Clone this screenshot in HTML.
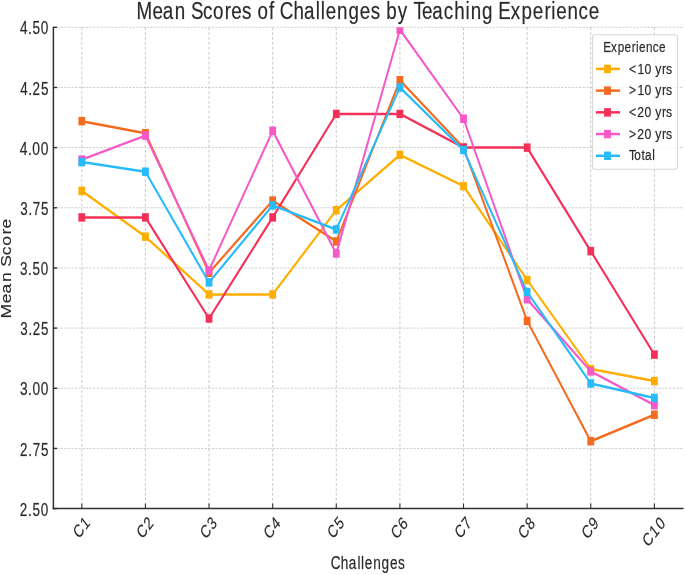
<!DOCTYPE html>
<html><head><meta charset="utf-8"><title>Mean Scores of Challenges by Teaching Experience</title>
<style>html,body{margin:0;padding:0;background:#fff;}svg{display:block;will-change:transform}text{font-family:"Liberation Sans",sans-serif;}</style>
</head><body>
<svg width="685" height="575" viewBox="0 0 685 575">
<rect width="685" height="575" fill="#fff"/>
<line x1="53.4" y1="27.30" x2="683.6" y2="27.30" stroke="#c8c8c8" stroke-width="0.85" stroke-dasharray="2.4 1.2"/>
<line x1="53.4" y1="87.46" x2="683.6" y2="87.46" stroke="#c8c8c8" stroke-width="0.85" stroke-dasharray="2.4 1.2"/>
<line x1="53.4" y1="147.62" x2="683.6" y2="147.62" stroke="#c8c8c8" stroke-width="0.85" stroke-dasharray="2.4 1.2"/>
<line x1="53.4" y1="207.79" x2="683.6" y2="207.79" stroke="#c8c8c8" stroke-width="0.85" stroke-dasharray="2.4 1.2"/>
<line x1="53.4" y1="267.95" x2="683.6" y2="267.95" stroke="#c8c8c8" stroke-width="0.85" stroke-dasharray="2.4 1.2"/>
<line x1="53.4" y1="328.11" x2="683.6" y2="328.11" stroke="#c8c8c8" stroke-width="0.85" stroke-dasharray="2.4 1.2"/>
<line x1="53.4" y1="388.28" x2="683.6" y2="388.28" stroke="#c8c8c8" stroke-width="0.85" stroke-dasharray="2.4 1.2"/>
<line x1="53.4" y1="448.44" x2="683.6" y2="448.44" stroke="#c8c8c8" stroke-width="0.85" stroke-dasharray="2.4 1.2"/>
<line x1="81.80" y1="27.3" x2="81.80" y2="508.6" stroke="#bcbcbc" stroke-width="0.8" stroke-dasharray="2.9 2.0"/>
<line x1="145.42" y1="27.3" x2="145.42" y2="508.6" stroke="#bcbcbc" stroke-width="0.8" stroke-dasharray="2.9 2.0"/>
<line x1="209.04" y1="27.3" x2="209.04" y2="508.6" stroke="#bcbcbc" stroke-width="0.8" stroke-dasharray="2.9 2.0"/>
<line x1="272.66" y1="27.3" x2="272.66" y2="508.6" stroke="#bcbcbc" stroke-width="0.8" stroke-dasharray="2.9 2.0"/>
<line x1="336.28" y1="27.3" x2="336.28" y2="508.6" stroke="#bcbcbc" stroke-width="0.8" stroke-dasharray="2.9 2.0"/>
<line x1="399.90" y1="27.3" x2="399.90" y2="508.6" stroke="#bcbcbc" stroke-width="0.8" stroke-dasharray="2.9 2.0"/>
<line x1="463.52" y1="27.3" x2="463.52" y2="508.6" stroke="#bcbcbc" stroke-width="0.8" stroke-dasharray="2.9 2.0"/>
<line x1="527.14" y1="27.3" x2="527.14" y2="508.6" stroke="#bcbcbc" stroke-width="0.8" stroke-dasharray="2.9 2.0"/>
<line x1="590.76" y1="27.3" x2="590.76" y2="508.6" stroke="#bcbcbc" stroke-width="0.8" stroke-dasharray="2.9 2.0"/>
<line x1="654.38" y1="27.3" x2="654.38" y2="508.6" stroke="#bcbcbc" stroke-width="0.8" stroke-dasharray="2.9 2.0"/>
<defs><clipPath id="ax"><rect x="53.4" y="27.3" width="630.2" height="481.3"/></clipPath></defs><g clip-path="url(#ax)">
<g transform="scale(0.766,1)"><polyline points="106.79,190.94 189.84,236.67 272.90,294.42 355.95,294.42 439.01,210.19 522.06,154.84 605.12,186.13 688.17,279.98 771.23,369.02 854.28,381.06" fill="none" stroke="#FFAE00" stroke-width="2.5" stroke-linejoin="round"/>
<rect x="102.35" y="186.72" width="8.88" height="8.45" fill="#FFAE00"/>
<rect x="185.40" y="232.44" width="8.88" height="8.45" fill="#FFAE00"/>
<rect x="268.46" y="290.20" width="8.88" height="8.45" fill="#FFAE00"/>
<rect x="351.51" y="290.20" width="8.88" height="8.45" fill="#FFAE00"/>
<rect x="434.57" y="205.97" width="8.88" height="8.45" fill="#FFAE00"/>
<rect x="517.62" y="150.62" width="8.88" height="8.45" fill="#FFAE00"/>
<rect x="600.68" y="181.90" width="8.88" height="8.45" fill="#FFAE00"/>
<rect x="683.73" y="275.76" width="8.88" height="8.45" fill="#FFAE00"/>
<rect x="766.79" y="364.80" width="8.88" height="8.45" fill="#FFAE00"/>
<rect x="849.84" y="376.83" width="8.88" height="8.45" fill="#FFAE00"/>
</g>
<g transform="scale(0.766,1)"><polyline points="106.79,121.15 189.84,133.19 272.90,272.76 355.95,200.57 439.01,241.48 522.06,80.24 605.12,147.62 688.17,320.89 771.23,441.22 854.28,414.75" fill="none" stroke="#F46A1E" stroke-width="2.5" stroke-linejoin="round"/>
<rect x="102.35" y="116.93" width="8.88" height="8.45" fill="#F46A1E"/>
<rect x="185.40" y="128.96" width="8.88" height="8.45" fill="#F46A1E"/>
<rect x="268.46" y="268.54" width="8.88" height="8.45" fill="#F46A1E"/>
<rect x="351.51" y="196.34" width="8.88" height="8.45" fill="#F46A1E"/>
<rect x="434.57" y="237.25" width="8.88" height="8.45" fill="#F46A1E"/>
<rect x="517.62" y="76.02" width="8.88" height="8.45" fill="#F46A1E"/>
<rect x="600.68" y="143.40" width="8.88" height="8.45" fill="#F46A1E"/>
<rect x="683.73" y="316.67" width="8.88" height="8.45" fill="#F46A1E"/>
<rect x="766.79" y="436.99" width="8.88" height="8.45" fill="#F46A1E"/>
<rect x="849.84" y="410.52" width="8.88" height="8.45" fill="#F46A1E"/>
</g>
<g transform="scale(0.766,1)"><polyline points="106.79,217.41 189.84,217.41 272.90,318.49 355.95,217.41 439.01,113.93 522.06,113.93 605.12,147.62 688.17,147.62 771.23,251.10 854.28,354.58" fill="none" stroke="#F53057" stroke-width="2.5" stroke-linejoin="round"/>
<rect x="102.35" y="213.19" width="8.88" height="8.45" fill="#F53057"/>
<rect x="185.40" y="213.19" width="8.88" height="8.45" fill="#F53057"/>
<rect x="268.46" y="314.26" width="8.88" height="8.45" fill="#F53057"/>
<rect x="351.51" y="213.19" width="8.88" height="8.45" fill="#F53057"/>
<rect x="434.57" y="109.71" width="8.88" height="8.45" fill="#F53057"/>
<rect x="517.62" y="109.71" width="8.88" height="8.45" fill="#F53057"/>
<rect x="600.68" y="143.40" width="8.88" height="8.45" fill="#F53057"/>
<rect x="683.73" y="143.40" width="8.88" height="8.45" fill="#F53057"/>
<rect x="766.79" y="246.88" width="8.88" height="8.45" fill="#F53057"/>
<rect x="849.84" y="350.36" width="8.88" height="8.45" fill="#F53057"/>
</g>
<g transform="scale(0.766,1)"><polyline points="106.79,159.66 189.84,135.59 272.90,270.36 355.95,130.78 439.01,253.51 522.06,29.71 605.12,118.75 688.17,299.23 771.23,371.43 854.28,405.12" fill="none" stroke="#F658C8" stroke-width="2.5" stroke-linejoin="round"/>
<rect x="102.35" y="155.43" width="8.88" height="8.45" fill="#F658C8"/>
<rect x="185.40" y="131.37" width="8.88" height="8.45" fill="#F658C8"/>
<rect x="268.46" y="266.13" width="8.88" height="8.45" fill="#F658C8"/>
<rect x="351.51" y="126.55" width="8.88" height="8.45" fill="#F658C8"/>
<rect x="434.57" y="249.29" width="8.88" height="8.45" fill="#F658C8"/>
<rect x="517.62" y="25.48" width="8.88" height="8.45" fill="#F658C8"/>
<rect x="600.68" y="114.52" width="8.88" height="8.45" fill="#F658C8"/>
<rect x="683.73" y="295.01" width="8.88" height="8.45" fill="#F658C8"/>
<rect x="766.79" y="367.20" width="8.88" height="8.45" fill="#F658C8"/>
<rect x="849.84" y="400.90" width="8.88" height="8.45" fill="#F658C8"/>
</g>
<g transform="scale(0.766,1)"><polyline points="106.79,162.06 189.84,171.69 272.90,282.39 355.95,205.38 439.01,229.45 522.06,87.46 605.12,150.03 688.17,292.02 771.23,383.46 854.28,397.90" fill="none" stroke="#28BBFC" stroke-width="2.5" stroke-linejoin="round"/>
<rect x="102.35" y="157.84" width="8.88" height="8.45" fill="#28BBFC"/>
<rect x="185.40" y="167.47" width="8.88" height="8.45" fill="#28BBFC"/>
<rect x="268.46" y="278.16" width="8.88" height="8.45" fill="#28BBFC"/>
<rect x="351.51" y="201.16" width="8.88" height="8.45" fill="#28BBFC"/>
<rect x="434.57" y="225.22" width="8.88" height="8.45" fill="#28BBFC"/>
<rect x="517.62" y="83.24" width="8.88" height="8.45" fill="#28BBFC"/>
<rect x="600.68" y="145.81" width="8.88" height="8.45" fill="#28BBFC"/>
<rect x="683.73" y="287.79" width="8.88" height="8.45" fill="#28BBFC"/>
<rect x="766.79" y="379.24" width="8.88" height="8.45" fill="#28BBFC"/>
<rect x="849.84" y="393.68" width="8.88" height="8.45" fill="#28BBFC"/>
</g>
</g>
<line x1="53.4" y1="26.8" x2="53.4" y2="509.3" stroke="#303030" stroke-width="1.5"/>
<line x1="52.65" y1="508.6" x2="683.6" y2="508.6" stroke="#303030" stroke-width="1.5"/>
<line x1="53.4" y1="27.30" x2="57.00" y2="27.30" stroke="#303030" stroke-width="1.4"/>
<line x1="53.4" y1="87.46" x2="57.00" y2="87.46" stroke="#303030" stroke-width="1.4"/>
<line x1="53.4" y1="147.62" x2="57.00" y2="147.62" stroke="#303030" stroke-width="1.4"/>
<line x1="53.4" y1="207.79" x2="57.00" y2="207.79" stroke="#303030" stroke-width="1.4"/>
<line x1="53.4" y1="267.95" x2="57.00" y2="267.95" stroke="#303030" stroke-width="1.4"/>
<line x1="53.4" y1="328.11" x2="57.00" y2="328.11" stroke="#303030" stroke-width="1.4"/>
<line x1="53.4" y1="388.28" x2="57.00" y2="388.28" stroke="#303030" stroke-width="1.4"/>
<line x1="53.4" y1="448.44" x2="57.00" y2="448.44" stroke="#303030" stroke-width="1.4"/>
<line x1="53.4" y1="508.60" x2="57.00" y2="508.60" stroke="#303030" stroke-width="1.4"/>
<line x1="81.80" y1="508.6" x2="81.80" y2="503.60" stroke="#303030" stroke-width="1.1"/>
<line x1="145.42" y1="508.6" x2="145.42" y2="503.60" stroke="#303030" stroke-width="1.1"/>
<line x1="209.04" y1="508.6" x2="209.04" y2="503.60" stroke="#303030" stroke-width="1.1"/>
<line x1="272.66" y1="508.6" x2="272.66" y2="503.60" stroke="#303030" stroke-width="1.1"/>
<line x1="336.28" y1="508.6" x2="336.28" y2="503.60" stroke="#303030" stroke-width="1.1"/>
<line x1="399.90" y1="508.6" x2="399.90" y2="503.60" stroke="#303030" stroke-width="1.1"/>
<line x1="463.52" y1="508.6" x2="463.52" y2="503.60" stroke="#303030" stroke-width="1.1"/>
<line x1="527.14" y1="508.6" x2="527.14" y2="503.60" stroke="#303030" stroke-width="1.1"/>
<line x1="590.76" y1="508.6" x2="590.76" y2="503.60" stroke="#303030" stroke-width="1.1"/>
<line x1="654.38" y1="508.6" x2="654.38" y2="503.60" stroke="#303030" stroke-width="1.1"/>
<text transform="scale(0.7535,1)" x="26.42 37.25 42.99 54.15" y="34.40" font-size="18.09" fill="#2a2a2a" stroke="#2a2a2a" stroke-width="0.425" stroke-opacity="0.45">4.50</text>
<text transform="scale(0.7451,1)" x="27.14 38.07 43.73 55.12" y="94.56" font-size="18.09" fill="#2a2a2a" stroke="#2a2a2a" stroke-width="0.429" stroke-opacity="0.45">4.25</text>
<text transform="scale(0.7666,1)" x="25.88 36.57 42.23 53.13" y="154.72" font-size="18.09" fill="#2a2a2a" stroke="#2a2a2a" stroke-width="0.417" stroke-opacity="0.45">4.00</text>
<text transform="scale(0.7384,1)" x="27.46 38.44 44.38 55.66" y="214.89" font-size="18.09" fill="#2a2a2a" stroke="#2a2a2a" stroke-width="0.433" stroke-opacity="0.45">3.75</text>
<text transform="scale(0.7438,1)" x="26.85 37.77 43.61 54.92" y="275.05" font-size="18.09" fill="#2a2a2a" stroke="#2a2a2a" stroke-width="0.430" stroke-opacity="0.45">3.50</text>
<text transform="scale(0.7351,1)" x="27.61 38.62 44.40 55.94" y="335.21" font-size="18.09" fill="#2a2a2a" stroke="#2a2a2a" stroke-width="0.435" stroke-opacity="0.45">3.25</text>
<text transform="scale(0.7572,1)" x="26.29 37.06 42.82 53.86" y="395.38" font-size="18.09" fill="#2a2a2a" stroke="#2a2a2a" stroke-width="0.423" stroke-opacity="0.45">3.00</text>
<text transform="scale(0.7392,1)" x="27.16 38.39 44.32 55.59" y="455.54" font-size="18.09" fill="#2a2a2a" stroke="#2a2a2a" stroke-width="0.433" stroke-opacity="0.45">2.75</text>
<text transform="scale(0.7447,1)" x="26.56 37.72 43.55 54.85" y="515.70" font-size="18.09" fill="#2a2a2a" stroke="#2a2a2a" stroke-width="0.430" stroke-opacity="0.45">2.50</text>
<g transform="translate(78.72,539.60) scale(0.766,1) rotate(-45)"><text transform="scale(0.9100,1)" x="-0.05 14.04" y="0.00" font-size="18.09" fill="#2a2a2a" stroke="#2a2a2a" stroke-width="0.352" stroke-opacity="0.45">C1</text></g>
<g transform="translate(142.37,539.67) scale(0.766,1) rotate(-45)"><text transform="scale(0.9147,1)" x="-0.08 13.77" y="0.00" font-size="18.09" fill="#2a2a2a" stroke="#2a2a2a" stroke-width="0.350" stroke-opacity="0.45">C2</text></g>
<g transform="translate(205.83,539.91) scale(0.766,1) rotate(-45)"><text transform="scale(0.9140,1)" x="-0.08 14.06" y="0.00" font-size="18.09" fill="#2a2a2a" stroke="#2a2a2a" stroke-width="0.350" stroke-opacity="0.45">C3</text></g>
<g transform="translate(269.41,540.04) scale(0.766,1) rotate(-45)"><text transform="scale(0.9328,1)" x="-0.21 13.64" y="0.00" font-size="18.09" fill="#2a2a2a" stroke="#2a2a2a" stroke-width="0.343" stroke-opacity="0.45">C4</text></g>
<g transform="translate(333.11,539.66) scale(0.766,1) rotate(-45)"><text transform="scale(0.9069,1)" x="-0.03 14.11" y="0.00" font-size="18.09" fill="#2a2a2a" stroke="#2a2a2a" stroke-width="0.353" stroke-opacity="0.45">C5</text></g>
<g transform="translate(396.62,540.12) scale(0.766,1) rotate(-45)"><text transform="scale(0.9449,1)" x="-0.29 13.42" y="0.00" font-size="18.09" fill="#2a2a2a" stroke="#2a2a2a" stroke-width="0.339" stroke-opacity="0.45">C6</text></g>
<g transform="translate(460.41,539.69) scale(0.766,1) rotate(-45)"><text transform="scale(0.9206,1)" x="-0.13 13.86" y="0.00" font-size="18.09" fill="#2a2a2a" stroke="#2a2a2a" stroke-width="0.348" stroke-opacity="0.45">C7</text></g>
<g transform="translate(523.88,540.05) scale(0.766,1) rotate(-45)"><text transform="scale(0.9353,1)" x="-0.23 13.60" y="0.00" font-size="18.09" fill="#2a2a2a" stroke="#2a2a2a" stroke-width="0.342" stroke-opacity="0.45">C8</text></g>
<g transform="translate(587.51,540.03) scale(0.766,1) rotate(-45)"><text transform="scale(0.9441,1)" x="-0.29 13.37" y="0.00" font-size="18.09" fill="#2a2a2a" stroke="#2a2a2a" stroke-width="0.339" stroke-opacity="0.45">C9</text></g>
<g transform="translate(648.16,547.79) scale(0.766,1) rotate(-45)"><text transform="scale(0.9377,1)" x="-0.24 13.47 25.19" y="0.00" font-size="18.09" fill="#2a2a2a" stroke="#2a2a2a" stroke-width="0.341" stroke-opacity="0.45">C10</text></g>
<text transform="scale(0.7527,1)" x="439.38 452.83 463.24 474.83 479.77 484.71 495.82 506.94 518.19 528.89" y="569.00" font-size="18.09" fill="#2a2a2a" stroke="#2a2a2a" stroke-width="0.425" stroke-opacity="0.45">Challenges</text>
<g transform="translate(10.6,0) scale(0.766,1) rotate(-90)"><text transform="scale(0.9687,1)" x="-328.74 -313.12 -302.94 -291.21 -280.31 -275.30 -263.61 -253.62 -242.20 -235.84" y="0.00" font-size="18.09" fill="#2a2a2a" stroke="#2a2a2a" stroke-width="0.330" stroke-opacity="0.45">Mean Score</text></g>
<text transform="scale(0.7747,1)" x="176.06 196.70 210.09 225.55 239.97 246.48 261.91 275.06 290.14 298.48 312.52 324.83 332.30 347.21 354.72 361.04 378.73 392.38 407.68 414.16 420.57 435.13 449.73 464.49 478.54 490.85 498.73 513.55 526.86 533.65 544.69 558.08 572.92 586.33 601.00 607.62 622.21 636.84 643.11 659.43 673.25 687.72 702.80 711.73 718.13 732.69 746.85 760.07" y="18.70" font-size="24.26" fill="#2a2a2a" stroke="#2a2a2a" stroke-width="0.413" stroke-opacity="0.45">Mean Scores of Challenges by Teaching Experience</text>
<rect x="592.5" y="34.7" width="85" height="134.6" rx="2.6" ry="2.6" fill="#fff" fill-opacity="0.8" stroke="#d8d8d8" stroke-width="1.1"/>
<text transform="scale(0.7687,1)" x="784.87 795.01 803.56 812.53 821.90 827.45 831.37 840.40 849.17 857.36" y="51.60" font-size="15.30" fill="#2a2a2a" stroke="#2a2a2a" stroke-width="0.416" stroke-opacity="0.45">Experience</text>
<line x1="596" y1="68.90" x2="620" y2="68.90" stroke="#FFAE00" stroke-width="2.5"/>
<rect x="604.10" y="64.68" width="6.8" height="8.45" fill="#FFAE00"/>
<text transform="scale(0.7987,1)" x="787.65 798.03 806.96 815.72 820.35 828.85 833.91" y="73.60" font-size="15.30" fill="#2a2a2a" stroke="#2a2a2a" stroke-width="0.401" stroke-opacity="0.45">&lt;10 yrs</text>
<line x1="596" y1="90.62" x2="620" y2="90.62" stroke="#F46A1E" stroke-width="2.5"/>
<rect x="604.10" y="86.40" width="6.8" height="8.45" fill="#F46A1E"/>
<text transform="scale(0.7987,1)" x="787.65 798.03 806.96 815.72 820.35 828.85 833.91" y="95.32" font-size="15.30" fill="#2a2a2a" stroke="#2a2a2a" stroke-width="0.401" stroke-opacity="0.45">&gt;10 yrs</text>
<line x1="596" y1="112.34" x2="620" y2="112.34" stroke="#F53057" stroke-width="2.5"/>
<rect x="604.10" y="108.12" width="6.8" height="8.45" fill="#F53057"/>
<text transform="scale(0.7993,1)" x="787.11 797.38 806.41 815.17 819.78 828.28 833.33" y="117.04" font-size="15.30" fill="#2a2a2a" stroke="#2a2a2a" stroke-width="0.400" stroke-opacity="0.45">&lt;20 yrs</text>
<line x1="596" y1="134.06" x2="620" y2="134.06" stroke="#F658C8" stroke-width="2.5"/>
<rect x="604.10" y="129.84" width="6.8" height="8.45" fill="#F658C8"/>
<text transform="scale(0.7993,1)" x="787.11 797.38 806.41 815.17 819.78 828.28 833.33" y="138.76" font-size="15.30" fill="#2a2a2a" stroke="#2a2a2a" stroke-width="0.400" stroke-opacity="0.45">&gt;20 yrs</text>
<line x1="596" y1="155.78" x2="620" y2="155.78" stroke="#28BBFC" stroke-width="2.5"/>
<rect x="604.10" y="151.56" width="6.8" height="8.45" fill="#28BBFC"/>
<text transform="scale(0.7710,1)" x="815.88 822.66 831.98 836.58 846.09" y="160.48" font-size="15.30" fill="#2a2a2a" stroke="#2a2a2a" stroke-width="0.415" stroke-opacity="0.45">Total</text>
</svg>
</body></html>
